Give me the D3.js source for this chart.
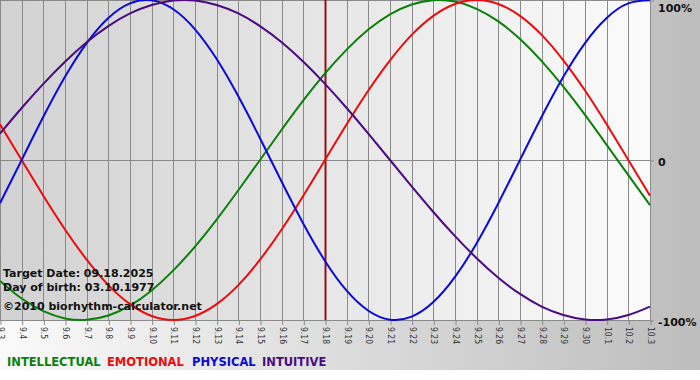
<!DOCTYPE html>
<html>
<head>
<meta charset="utf-8">
<script src="https://cdn.jsdelivr.net/npm/d3@7"></script>
<style>
  body { margin: 0; background: #fff; }
  svg { display: block; }
</style>
</head>
<body>
<div id="chart"></div>
<script>
// Day labels along the bottom axis (month.day)
const dayLabels = ['9.3', '9.4', '9.5', '9.6', '9.7', '9.8', '9.9', '9.10', '9.11', '9.12',
  '9.13', '9.14', '9.15', '9.16', '9.17', '9.18', '9.19', '9.20', '9.21', '9.22', '9.23',
  '9.24', '9.25', '9.26', '9.27', '9.28', '9.29', '9.30', '10.1', '10.2', '10.3']
const targetIndex = 15

// Cycle values in percent, one per day
const intellectual = [-75.6, -86.6, -94.5, -99.0, -99.9, -97.2, -91.0, -81.5, -69.0, -54.1, -37.2,
  -18.9, 0, 18.9, 37.2, 54.1, 69.0, 81.5, 91.0, 97.2, 99.9, 99.0, 94.5, 86.6, 75.6, 61.8, 45.8,
  28.2, 9.5, -9.5, -28.2]
const emotional = [22.3, 0, -22.3, -43.4, -62.3, -78.2, -90.1, -97.5, -100, -97.5, -90.1, -78.2,
  -62.3, -43.4, -22.3, 0, 22.3, 43.4, 62.3, 78.2, 90.1, 97.5, 100, 97.5, 90.1, 78.2, 62.3, 43.4,
  22.3, 0, -22.3]
const physical = [-27.0, 0, 27.0, 52.0, 73.1, 88.8, 97.9, 99.8, 94.2, 81.7, 63.1, 39.8, 13.6,
  -13.6, -39.8, -63.1, -81.7, -94.2, -99.8, -97.9, -88.8, -73.1, -52.0, -27.0, 0, 27.0, 52.0,
  73.1, 88.8, 97.9, 99.8]
const intuitive = [16.5, 32.5, 47.6, 61.4, 73.6, 83.7, 91.6, 96.9, 99.7, 99.7, 96.9, 91.6, 83.7,
  73.6, 61.4, 47.6, 32.5, 16.5, 0, -16.5, -32.5, -47.6, -61.4, -73.6, -83.7, -91.6, -96.9, -99.7,
  -99.7, -96.9, -91.6]

const seriesNames = ['INTELLECTUAL', 'EMOTIONAL', 'PHYSICAL', 'INTUITIVE']
const yTicks = [100, 0, -100]
const yTickLabels = ['100%', '0', '-100%']
const infoLines = ['Target Date: 09.18.2025', 'Day of birth: 03.10.1977', '\u00a92010 biorhythm-calculator.net']

const series = [
  { name: seriesNames[0], values: intellectual, color: '#0a800a' },
  { name: seriesNames[1], values: emotional, color: '#ee0a0a' },
  { name: seriesNames[2], values: physical, color: '#0a0ad8' },
  { name: seriesNames[3], values: intuitive, color: '#4b0a82' },
]

const width = 700
const height = 380
const plotW = 650
const plotH = 320

const svg = d3.select('#chart')
  .append('svg')
  .attr('width', width)
  .attr('height', height)

// Background gradients
const defs = svg.append('defs')
const outerGrad = defs.append('linearGradient').attr('id', 'outerBg')
outerGrad.append('stop').attr('offset', '0%').attr('stop-color', '#fafafa')
outerGrad.append('stop').attr('offset', '100%').attr('stop-color', '#bdbdbd')
const plotGrad = defs.append('linearGradient').attr('id', 'plotBg')
plotGrad.append('stop').attr('offset', '0%').attr('stop-color', '#d2d2d2')
plotGrad.append('stop').attr('offset', '100%').attr('stop-color', '#fbfbfb')

svg.append('rect')
  .attr('width', width)
  .attr('height', 370)
  .attr('fill', 'url(#outerBg)')

svg.append('rect')
  .attr('width', plotW)
  .attr('height', plotH)
  .attr('fill', 'url(#plotBg)')

// Scales
const xScale = d3.scaleLinear().domain([0, dayLabels.length - 1]).range([0, plotW])
const yScale = d3.scaleLinear().domain([-100, 100]).range([plotH, 0])

// Vertical grid lines
svg.append('g')
  .selectAll('line')
  .data(dayLabels)
  .enter()
  .append('line')
  .attr('x1', (d, i) => Math.round(xScale(i)) + 0.5)
  .attr('x2', (d, i) => Math.round(xScale(i)) + 0.5)
  .attr('y1', 0)
  .attr('y2', plotH)
  .attr('stroke', '#8a8a8a')

// Horizontal grid lines
svg.append('g')
  .selectAll('line')
  .data(yTicks)
  .enter()
  .append('line')
  .attr('x1', 0)
  .attr('x2', plotW)
  .attr('y1', d => Math.round(yScale(d)) + 0.5)
  .attr('y2', d => Math.round(yScale(d)) + 0.5)
  .attr('stroke', '#8a8a8a')

// Bottom axis with rotated day labels
const xAxis = d3.axisBottom(xScale)
  .tickValues(d3.range(dayLabels.length))
  .tickFormat(i => dayLabels[i])
  .tickSize(5)
  .tickSizeOuter(0)

const xAxisEl = svg.append('g')
  .attr('transform', `translate(0.5,${plotH})`)
  .call(xAxis)
xAxisEl.select('.domain').remove()
xAxisEl.selectAll('line').attr('stroke', '#8a8a8a')
xAxisEl.selectAll('text')
  .attr('transform', 'rotate(90)')
  .attr('x', 7)
  .attr('y', 0)
  .attr('dy', '0.35em')
  .style('text-anchor', 'start')
  .style('font-family', '"DejaVu Sans Condensed", "DejaVu Sans", sans-serif')
  .style('font-size', '8.5px')
  .attr('fill', '#333')

// Right axis with percent labels
const yAxis = d3.axisRight(yScale)
  .tickValues(yTicks)
  .tickFormat((d, i) => yTickLabels[i])
  .tickSize(4)
  .tickSizeOuter(0)

const yAxisEl = svg.append('g')
  .attr('transform', `translate(${plotW},0.5)`)
  .call(yAxis)
yAxisEl.select('.domain').remove()
yAxisEl.selectAll('line').attr('stroke', '#8a8a8a')
yAxisEl.selectAll('text')
  .attr('x', 8)
  .attr('dy', d => (d === 100 ? '1.0em' : '0.45em'))
  .style('font-family', '"DejaVu Sans", sans-serif')
  .style('font-weight', 'bold')
  .style('font-size', '11px')
  .attr('fill', '#111')

// Target day marker
svg.append('line')
  .attr('x1', xScale(targetIndex) + 0.5)
  .attr('x2', xScale(targetIndex) + 0.5)
  .attr('y1', 0)
  .attr('y2', plotH)
  .attr('stroke', '#8c1414')
  .attr('stroke-width', 2)

// Curves
const line = d3.line()
  .x((d, i) => xScale(i))
  .y(d => yScale(d))
  .curve(d3.curveNatural)

svg.append('g')
  .selectAll('path')
  .data(series)
  .enter()
  .append('path')
  .attr('d', d => line(d.values))
  .attr('fill', 'none')
  .attr('stroke', d => d.color)
  .attr('stroke-width', 2)

// Info text
svg.append('g')
  .selectAll('text')
  .data(infoLines)
  .enter()
  .append('text')
  .attr('x', 3)
  .attr('y', (d, i) => [277, 291, 310][i])
  .style('font-family', '"DejaVu Sans", sans-serif')
  .style('font-weight', 'bold')
  .style('font-size', '11px')
  .attr('fill', '#111')
  .text(d => d)

// Legend
const legendX = [7, 107, 192, 262]
svg.append('g')
  .selectAll('text')
  .data(series)
  .enter()
  .append('text')
  .attr('x', (d, i) => legendX[i])
  .attr('y', 366)
  .style('font-family', '"DejaVu Sans", sans-serif')
  .style('font-weight', 'bold')
  .style('font-size', '11.5px')
  .attr('fill', d => d.color)
  .text(d => d.name)
</script>
</body>
</html>
